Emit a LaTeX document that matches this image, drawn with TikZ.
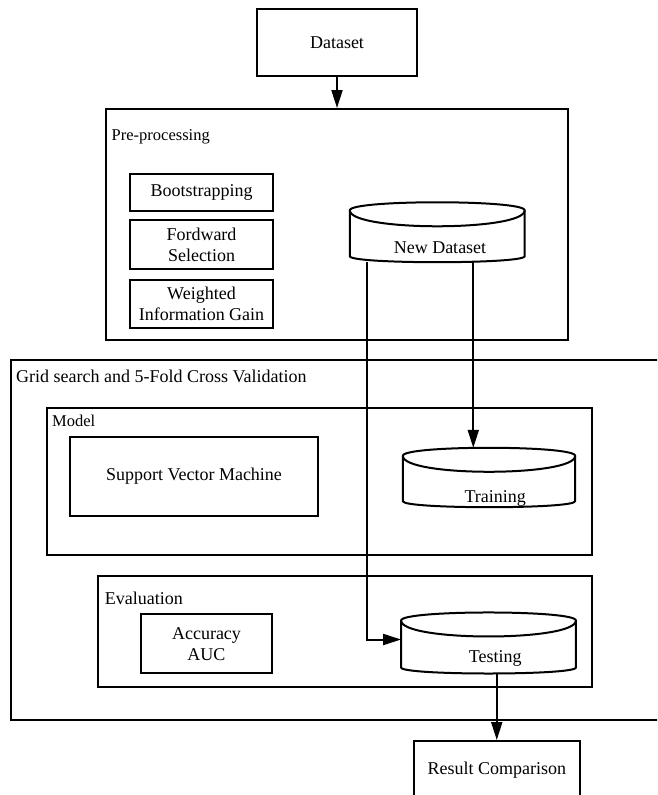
\documentclass[tikz,border=0pt]{standalone}
\usepackage{fontspec}
\setmainfont{Liberation Serif}
\usetikzlibrary{arrows.meta,calc}
\tikzset{
  ln/.style={line width=2pt},
  box/.style={draw, ln, inner sep=0pt, align=center, font=\fontsize{18}{21}\selectfont},
  grp/.style={draw, ln, inner sep=0pt},
  lbl/.style={anchor=base west, inner sep=0pt, font=\fontsize{18}{21}\selectfont},
  slbl/.style={lbl, font=\fontsize{16.5}{20}\selectfont},
  cyl/.style={inner sep=0pt},
  cyltxt/.style={anchor=base, inner sep=0pt, font=\fontsize{18}{21}\selectfont},
  conn/.style={ln, -{Triangle[length=18pt,width=11pt]}},
}
\newcommand\drawcyl[1]{%
  \draw[ln, line join=round] ([yshift=-8pt]#1.north west)
    .. controls ([yshift=2.7pt]#1.north west) and ([yshift=2.7pt]#1.north east) .. ([yshift=-8pt]#1.north east)
    -- ([yshift=6pt]#1.south east)
    .. controls ([yshift=-2pt]#1.south east) and ([yshift=-2pt]#1.south west) .. ([yshift=6pt]#1.south west)
    -- cycle;
  \draw[ln] ([yshift=-8pt]#1.north west)
    .. controls ([yshift=-29.3pt]#1.north west) and ([yshift=-29.3pt]#1.north east) .. ([yshift=-8pt]#1.north east);
}
\begin{document}
\begin{tikzpicture}[x=1pt,y=-1pt]
\useasboundingbox (0,0) rectangle (657,795);
\clip (0,0) rectangle (657,795);
\fill[white] (0,0) rectangle (657,795);

% top
\node[box, minimum width=160pt, minimum height=67pt] (ds) at (337,42.5) {Dataset};

% pre-processing group
\node[grp, minimum width=462pt, minimum height=231pt] (pre) at (337,224.5) {};
\node[slbl] (prelbl) at ([xshift=6.5pt,yshift=-32pt]pre.north west) {Pre-processing};
\node[box, minimum width=143pt, minimum height=37pt] (boot) at (201.5,192.5) {Bootstrapping};
\node[box, minimum width=143pt, minimum height=49pt] (fs) at (201.5,244.5) {Fordward\\Selection};
\node[box, minimum width=143pt, minimum height=48pt] (wig) at (201.5,304) {Weighted\\Information Gain};
\node[cyl, minimum width=174.5pt, minimum height=59.5pt,
  label={[cyltxt, xshift=2.75pt, yshift=-15pt]center:New Dataset}] (nd) at (437.25,232.25) {};
\drawcyl{nd}

% grid search group
\node[grp, minimum width=689pt, minimum height=360pt] (grid) at (355.5,540) {};
\node[lbl] (gridlbl) at ([xshift=6pt,yshift=-23.3pt]grid.north west) {Grid search and 5-Fold Cross Validation};

% model group
\node[grp, minimum width=545.5pt, minimum height=147.5pt] (model) at (319.25,481.25) {};
\node[slbl] (modellbl) at ([xshift=6.5pt,yshift=-19.8pt]model.north west) {Model};
\node[box, minimum width=248pt, minimum height=79pt] (svm) at (194,476.5) {Support Vector Machine};
\node[cyl, minimum width=172pt, minimum height=59pt,
  label={[cyltxt, xshift=6.3pt, yshift=-20.8pt]center:Training}] (tr) at (489,477.5) {};
\drawcyl{tr}

% evaluation group
\node[grp, minimum width=493.7pt, minimum height=111.6pt] (ev) at (345.15,631.5) {};
\node[lbl] (evlbl) at ([xshift=7.4pt,yshift=-29.3pt]ev.north west) {Evaluation};
\node[box, minimum width=131pt, minimum height=59.3pt] (acc) at (206.5,643.65) {Accuracy\\AUC};
\node[cyl, minimum width=174.4pt, minimum height=60.6pt,
  label={[cyltxt, xshift=6.8pt, yshift=-15.3pt]center:Testing}] (te) at (488.5,643) {};
\drawcyl{te}

% result
\node[box, minimum width=166.5pt, minimum height=59pt] (res) at (496.75,770.5) {Result Comparison};

% connectors
\coordinate (xl) at (367,0);
\coordinate (xr) at (473.3,0);
\draw[conn] (ds.south) -- (pre.north);
\draw[conn] (nd.south -| xr) -- (tr.north -| xr);
\draw[conn] (nd.south -| xl) |- ([yshift=3.5pt]te.west);
\draw[conn] (te.south -| res.north) -- (res.north);
\end{tikzpicture}
\end{document}
